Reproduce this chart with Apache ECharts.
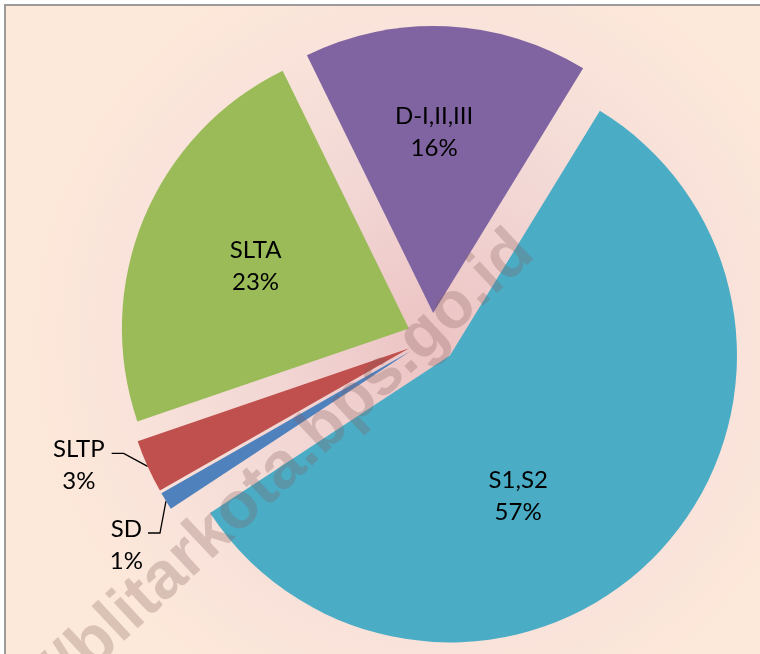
<!DOCTYPE html>
<html>
<head>
<meta charset="utf-8">
<script src="https://cdn.jsdelivr.net/npm/echarts@6/dist/echarts.min.js"></script>
<style>
  html, body { margin: 0; padding: 0; background: #fff; }
  #chart { width: 760px; height: 654px; }
</style>
</head>
<body>
<div id="chart"></div>
<script>
// data (percent of total)
const categories = ['S1,S2', 'SD', 'SLTP', 'SLTA', 'D-I,II,III']
const values = [57, 1, 3, 23, 16]
const colors = ['#4BACC6', '#4F81BD', '#C0504D', '#9BBB59', '#8064A2']
const outsideLabels = ['SLTP', 'SD']

// layout tweaks, kept apart from the data
const CENTER = [432, 338]
const RADIUS = 287
const EXPLODE = 25
// label nudges [dx, dy] relative to where echarts puts them
const labelShift = {
  'S1,S2': [-37, 39],
  'SLTA': [-18, -6],
  'D-I,II,III': [-6, -34],
  'SLTP': [-38, -1],
  'SD': [-18, 44]
}
// leader line bends, relative to the point on the arc
const leaderBend = {
  'SLTP': [[-24, -13], [-36, -13]],
  'SD': [[-6, 32], [-18, 32]]
}

const chart = echarts.init(document.getElementById('chart'))

const pieData = categories.map((name, i) => {
  const outside = outsideLabels.includes(name)
  return {
    name,
    value: values[i],
    selected: true,
    itemStyle: { color: colors[i] },
    label: { position: outside ? 'outside' : 'inside' },
    labelLine: { show: outside }
  }
})

const option = {
  animation: false,
  graphic: [
    {
      type: 'rect',
      z: -10,
      silent: true,
      shape: { x: 5, y: 5, width: 800, height: 700 },
      style: {
        fill: {
          type: 'radial', x: CENTER[0], y: CENTER[1], r: 420, global: true,
          colorStops: [
            { offset: 0, color: '#ecc3c3' },
            { offset: 0.4, color: '#f2d7d5' },
            { offset: 0.75, color: '#f9e3da' },
            { offset: 1, color: '#fde9d9' }
          ]
        },
        stroke: '#9b9b9b',
        lineWidth: 2
      }
    },
    {
      type: 'text',
      z: 100,
      silent: true,
      x: 524,
      y: 243,
      rotation: 43 * Math.PI / 180,
      style: {
        text: 'http://blitarkota.bps.go.id',
        font: 'bold 66px "Liberation Sans", Arial, sans-serif',
        fill: 'rgba(130, 95, 90, 0.28)',
        align: 'right',
        verticalAlign: 'middle'
      }
    }
  ],
  series: [
    {
      type: 'pie',
      center: CENTER,
      radius: RADIUS,
      startAngle: 58.5,
      clockwise: true,
      selectedMode: 'multiple',
      selectedOffset: EXPLODE,
      avoidLabelOverlap: false,
      silent: true,
      percentPrecision: 0,
      itemStyle: { borderWidth: 0 },
      select: { itemStyle: { borderWidth: 0 } },
      emphasis: { disabled: true },
      label: {
        position: 'outside',
        overflow: 'none',
        color: '#000',
        formatter: '{n|{b}}\n{p|{d}%}',
        rich: {
          n: { fontFamily: 'Lato', fontSize: 24, lineHeight: 32, color: '#000', align: 'center' },
          p: { fontFamily: 'Lato', fontSize: 24, lineHeight: 32, color: '#000', align: 'center' }
        }
      },
      labelLine: {
        length: 0,
        length2: 0,
        lineStyle: { color: '#000', width: 1.3 }
      },
      labelLayout: function (p) {
        const name = categories[p.dataIndex]
        const s = labelShift[name] || [0, 0]
        const out = { dx: s[0], dy: s[1] }
        const bend = leaderBend[name]
        if (bend && p.labelLinePoints) {
          const a = p.labelLinePoints[0]
          out.labelLinePoints = [
            [a[0], a[1]],
            [a[0] + bend[0][0], a[1] + bend[0][1]],
            [a[0] + bend[1][0], a[1] + bend[1][1]]
          ]
        }
        return out
      },
      data: pieData
    }
  ]
}

chart.setOption(option)
</script>
</body>
</html>
